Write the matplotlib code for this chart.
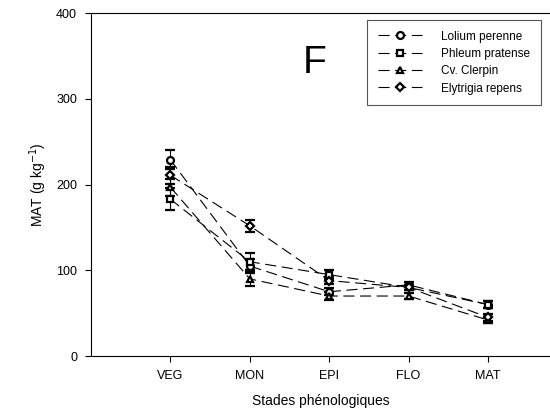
import matplotlib
matplotlib.use("Agg")
import matplotlib.pyplot as plt
from matplotlib.lines import Line2D

plt.rcParams["font.family"] = ["Liberation Sans", "DejaVu Sans"]

# --- data ---
stades = ["VEG", "MON", "EPI", "FLO", "MAT"]
lolium = [229, 105, 75, 83, 60]
phleum = [183, 110, 95, 80, 60]
clerpin = [197, 90, 70, 70, 42]
elytrigia = [211, 152, 88, 80, 45]
err_lolium = [11, 8, 4, 3, 4]
err_phleum = [13, 10, 5, 3, 4]
err_clerpin = [10, 8, 5, 4, 3]
err_elytrigia = [10, 7, 4, 3, 4]
noms = ["Lolium perenne", "Phleum pratense", "Cv. Clerpin", "Elytrigia repens"]

series = [
    (lolium, err_lolium, "o"),
    (phleum, err_phleum, "s"),
    (clerpin, err_clerpin, "^"),
    (elytrigia, err_elytrigia, "D"),
]

fig = plt.figure(figsize=(5.5, 4.15), dpi=100)
ax = fig.add_axes([91 / 550, 59 / 415, 1 - 91 / 550, 342.7 / 415])

xs = list(range(1, len(stades) + 1))
handles = []
for (vals, errs, mk), nom in zip(series, noms):
    ms = 4.5 if mk == "D" else 5
    style = dict(color="black", marker=mk, markersize=ms,
                 markerfacecolor="white", markeredgecolor="black",
                 markeredgewidth=1.6, linewidth=0.8, dashes=(10, 5))
    ax.errorbar(xs, vals, yerr=errs, ecolor="black", elinewidth=0.8,
                capsize=3.5, capthick=0.8, **style)
    handles.append(Line2D([], [], label=nom, **style))

ax.set_xlim(0, (550 - 91) / 79.4)
ax.set_ylim(0, 400)
ax.set_xticks(xs)
ax.set_xticklabels(stades)
ax.set_yticks([0, 100, 200, 300, 400])
ax.tick_params(axis="both", direction="out", length=4, width=0.8,
               labelsize=9, pad=6)
ax.spines["right"].set_visible(False)
for s in ["left", "top", "bottom"]:
    ax.spines[s].set_linewidth(0.8)

ax.set_xlabel("Stades phénologiques", fontsize=10, labelpad=9)
ax.set_ylabel("MAT (g kg$^{-1}$)", fontsize=10, labelpad=5)

fig.text(303 / 550, 1 - 73 / 415, "F", fontsize=28, ha="left", va="baseline")

leg = ax.legend(handles=handles, loc="upper left",
                bbox_to_anchor=(367 / 550, 1 - 20 / 415),
                bbox_transform=fig.transFigure, borderaxespad=0,
                fontsize=8.5, handlelength=3.8, handletextpad=1.6,
                borderpad=0.9, labelspacing=0.45, fancybox=False,
                framealpha=1)
leg.get_frame().set_edgecolor("#555555")
leg.get_frame().set_linewidth(0.8)

fig.savefig("out.png", dpi=100)
